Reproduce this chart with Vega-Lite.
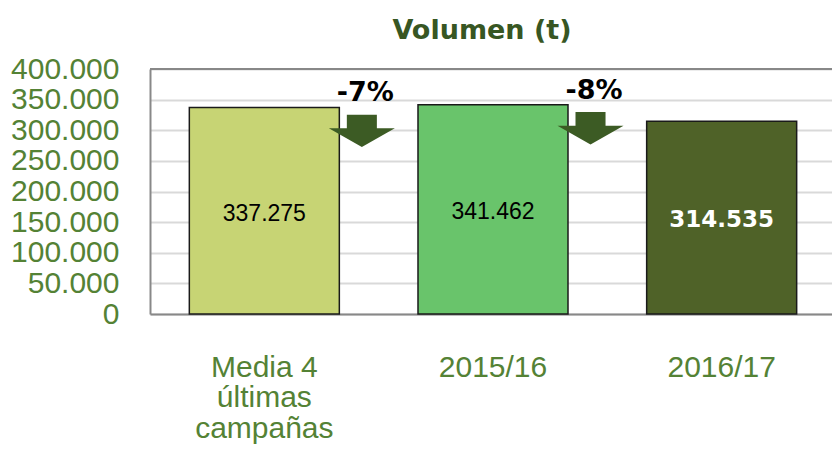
{
  "$schema": "https://vega.github.io/schema/vega-lite/v6.json",
  "width": 682,
  "height": 245,
  "autosize": {"type": "none"},
  "padding": {"left": 150, "top": 69, "right": 0, "bottom": 141},
  "title": {
    "text": "Volumen (t)",
    "font": "DejaVu Sans",
    "fontWeight": "bold",
    "fontSize": 27,
    "color": "#375623",
    "anchor": "middle",
    "frame": "group",
    "dx": -9,
    "baseline": "alphabetic",
    "offset": -12
  },
  "config": {
    "view": {"stroke": null},
    "axisX": {
      "title": null,
      "labelAngle": 0,
      "ticks": false,
      "grid": false,
      "domainColor": "#888888",
      "domainWidth": 2,
      "labelFont": "Liberation Sans",
      "labelFontSize": 30,
      "labelColor": "#548235",
      "labelPadding": 38,
      "labelLineHeight": 30.5,
      "labelBaseline": "top"
    },
    "locale": {"number": {"decimal": ",", "thousands": ".", "grouping": [3], "currency": ["", " €"]}}
  },
  "data": {
    "values": [
      {"campaign": "Media 4|últimas|campañas", "value": 337275, "change": "-7%"},
      {"campaign": "2015/16", "value": 341462, "change": "-8%"},
      {"campaign": "2016/17", "value": 314535, "change": null}
    ]
  },
  "resolve": {"scale": {"y": "independent"}, "axis": {"y": "independent"}},
  "layer": [
    {
      "mark": {"type": "bar", "stroke": "#1a1a1a", "strokeWidth": 1.5},
      "encoding": {
        "x": {
          "field": "campaign",
          "type": "nominal",
          "sort": null,
          "scale": {"range": [0, 686], "paddingInner": 0.344, "paddingOuter": 0.172},
          "axis": {"labelExpr": "split(datum.label, '|')"}
        },
        "y": {
          "field": "value",
          "type": "quantitative",
          "scale": {"domain": [0, 400000]},
          "axis": {
            "title": null,
            "values": [0, 50000, 100000, 150000, 200000, 250000, 300000, 350000, 400000],
            "format": ",.0f",
            "ticks": false,
            "domainColor": "#888888",
            "domainWidth": 2,
            "gridColor": "#d9d9d9",
            "gridWidth": 2,
            "labelFont": "Liberation Sans",
            "labelFontSize": 30,
            "labelColor": "#548235",
            "labelPadding": 31,
            "labelOverlap": false
          }
        },
        "color": {
          "field": "campaign",
          "type": "nominal",
          "scale": {
            "domain": ["Media 4|últimas|campañas", "2015/16", "2016/17"],
            "range": ["#c7d474", "#69c46b", "#4f6228"]
          },
          "legend": null
        }
      }
    },
    {
      "mark": {"type": "rule", "color": "#888888", "strokeWidth": 2},
      "encoding": {"y": {"datum": 400000, "type": "quantitative", "scale": {"domain": [0, 400000]}, "axis": null}}
    },
    {
      "transform": [{"filter": "datum.campaign !== '2016/17'"}],
      "mark": {"type": "text", "font": "Liberation Sans", "fontSize": 23, "color": "#000000", "baseline": "middle", "dy": 3},
      "encoding": {
        "x": {"field": "campaign", "type": "nominal", "sort": null, "axis": {"labelExpr": "split(datum.label, '|')"}},
        "y": {"field": "value", "type": "quantitative", "scale": {"domain": [0, 800000]}, "axis": null},
        "text": {"field": "value", "type": "quantitative", "format": ",.0f"}
      }
    },
    {
      "transform": [{"filter": "datum.campaign === '2016/17'"}],
      "mark": {"type": "text", "font": "DejaVu Sans", "fontWeight": "bold", "fontSize": 23, "color": "#ffffff", "baseline": "middle", "dy": 2},
      "encoding": {
        "x": {"field": "campaign", "type": "nominal", "sort": null, "axis": {"labelExpr": "split(datum.label, '|')"}},
        "y": {"field": "value", "type": "quantitative", "scale": {"domain": [0, 800000]}, "axis": null},
        "text": {"field": "value", "type": "quantitative", "format": ",.0f"}
      }
    },
    {
      "transform": [{"filter": "datum.change != null"}],
      "mark": {
        "type": "point",
        "shape": "M2.5,0.22L3.41,0.22L3.41,0.635L3.955,0.635L2.955,1.2L1.955,0.635L2.5,0.635Z",
        "size": 4356,
        "filled": true,
        "opacity": 1,
        "color": "#3c5b24",
        "strokeWidth": 0
      },
      "encoding": {
        "x": {"field": "campaign", "type": "nominal", "sort": null, "axis": {"labelExpr": "split(datum.label, '|')"}},
        "y": {"field": "value", "type": "quantitative", "scale": {"domain": [0, 400000]}, "axis": null}
      }
    },
    {
      "transform": [{"filter": "datum.change != null"}],
      "mark": {"type": "text", "font": "DejaVu Sans", "fontWeight": "bold", "fontSize": 27, "color": "#000000", "align": "center", "baseline": "alphabetic", "dx": 101, "dy": -6},
      "encoding": {
        "x": {"field": "campaign", "type": "nominal", "sort": null, "axis": {"labelExpr": "split(datum.label, '|')"}},
        "y": {"field": "value", "type": "quantitative", "scale": {"domain": [0, 400000]}, "axis": null},
        "text": {"field": "change", "type": "nominal"}
      }
    }
  ]
}
